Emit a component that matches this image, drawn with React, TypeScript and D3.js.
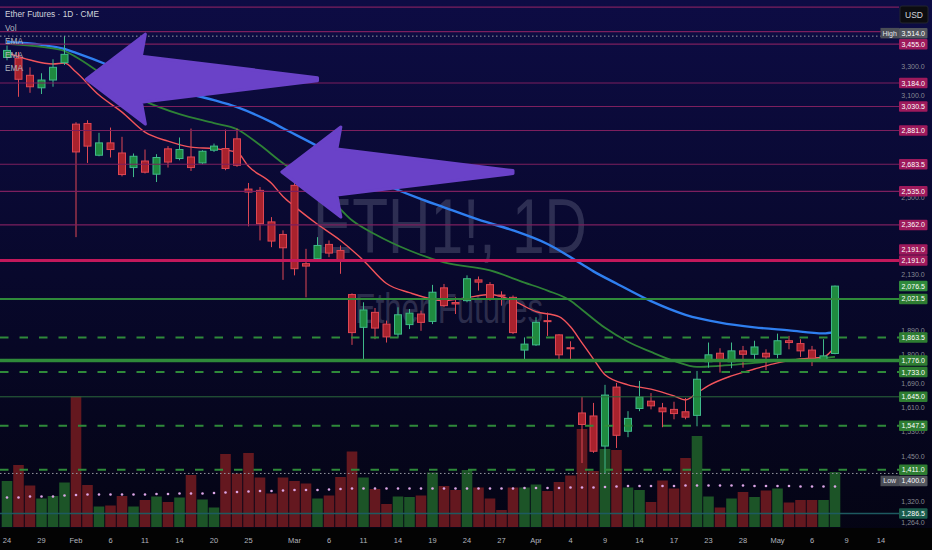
import { useEffect } from 'react';
import * as d3 from 'd3';

const W = 932;
const H = 550;
const PLOT_R = 899;
const PLOT_B = 528;

// Daily bars, CME trading days Jan 24 -> May 8 (index 0..72)
const opens = [
  3360, 3354, 3236, 3152, 3204, 3323, 2920, 2924, 2735, 2807,
  2748, 2665, 2702, 2628, 2772, 2716, 2725, 2691, 2764, 2774,
  2831, 2547, 2540, 2377, 2315, 2567, 2177, 2200, 2267, 2238,
  2040, 1904, 1965, 1917, 1877, 1915, 1958, 1928, 2069, 2006,
  2014, 2104, 2083, 2038, 2028, 1815, 1835, 1931, 1874, 1824,
  1590, 1580, 1483, 1679, 1530, 1605, 1630, 1607, 1602, 1594,
  1582, 1771, 1803, 1771, 1812, 1799, 1803, 1799, 1851, 1840,
  1815, 1774, 1802,
];
const highs = [
  3445, 3399, 3291, 3250, 3347, 3514, 2932, 2944, 2867, 2899,
  2843, 2745, 2768, 2741, 2788, 2839, 2893, 2764, 2803, 2887,
  2893, 2580, 2558, 2401, 2335, 2580, 2246, 2302, 2286, 2262,
  2045, 2007, 1983, 1931, 1986, 1979, 1972, 2082, 2086, 2028,
  2124, 2119, 2094, 2054, 2036, 1864, 1945, 1964, 1877, 1849,
  1644, 1624, 1687, 1694, 1596, 1701, 1658, 1624, 1628, 1641,
  1737, 1844, 1822, 1844, 1831, 1851, 1818, 1879, 1870, 1857,
  1831, 1857, 2079,
];
const lows = [
  3340, 3093, 3119, 3111, 3159, 3307, 2302, 2691, 2729, 2722,
  2616, 2612, 2632, 2585, 2665, 2706, 2646, 2684, 2754, 2650,
  2669, 2355, 2286, 2254, 2104, 2124, 2028, 2192, 2207, 2131,
  1835, 1774, 1857, 1844, 1864, 1897, 1890, 1917, 1986, 1958,
  2007, 2057, 2014, 1993, 1877, 1780, 1831, 1870, 1776, 1776,
  1431, 1462, 1400, 1477, 1511, 1596, 1602, 1543, 1569, 1569,
  1546, 1749, 1731, 1747, 1749, 1780, 1740, 1784, 1818, 1789,
  1755, 1771, 1799,
];
const closes = [
  3410, 3209, 3159, 3204, 3291, 3382, 2754, 2788, 2807, 2768,
  2626, 2729, 2639, 2722, 2696, 2768, 2665, 2758, 2788, 2660,
  2678, 2531, 2368, 2283, 2251, 2154, 2166, 2262, 2226, 2192,
  1883, 1975, 1901, 1866, 1955, 1962, 1924, 2050, 1993, 2000,
  2109, 2094, 2021, 2034, 1883, 1838, 1924, 1927, 1797, 1820,
  1552, 1467, 1651, 1517, 1572, 1644, 1614, 1594, 1588, 1576,
  1707, 1797, 1774, 1812, 1799, 1827, 1789, 1851, 1844, 1812,
  1784, 1793, 2076.5,
];
// volume, thousands of contracts
const volumes = [
  9.2, 12.4, 8.3, 5.7, 6.2, 8.9, 26.1, 8.4, 4.1, 4.3,
  6.2, 4.1, 5.4, 6.1, 5.0, 5.9, 10.4, 5.5, 3.9, 14.6,
  10.7, 14.8, 9.9, 6.7, 9.9, 9.2, 8.7, 5.7, 6.3, 10.0,
  15.1, 9.9, 7.6, 4.6, 6.1, 6.0, 6.3, 10.9, 8.2, 7.4,
  11.4, 7.9, 5.7, 3.4, 7.9, 7.9, 8.5, 7.2, 9.0, 10.3,
  19.6, 11.2, 15.6, 15.4, 7.9, 7.4, 5.0, 9.3, 7.7, 13.8,
  18.2, 6.1, 3.9, 5.7, 7.0, 6.0, 7.3, 7.7, 4.9, 5.4,
  5.4, 5.4, 11.0,
];
const volumeMA = [
  5.9, 5.9, 6.1, 6.1, 6.1, 6.3, 6.4, 6.5, 6.5, 6.5,
  6.5, 6.5, 6.5, 6.6, 6.6, 6.7, 6.7, 6.7, 6.8, 6.9,
  7.0, 7.1, 7.2, 7.2, 7.3, 7.4, 7.4, 7.4, 7.5, 7.6,
  7.7, 7.7, 7.7, 7.7, 7.7, 7.7, 7.7, 7.7, 7.7, 7.7,
  7.7, 7.7, 7.7, 7.7, 7.7, 7.8, 7.8, 7.8, 7.8, 7.9,
  7.9, 7.9, 8.0, 8.1, 8.2, 8.2, 8.2, 8.2, 8.2, 8.3,
  8.3, 8.3, 8.3, 8.3, 8.3, 8.2, 8.2, 8.2, 8.2, 8.1,
  8.1, 8.1, 8.1,
];

// EMA readings [bar index, price]
const emaFast: [number, number][] = [
  [0, 3392], [2, 3342], [4, 3314], [5, 3321], [6, 3258], [8, 3104], [10, 2995],
  [12, 2871], [14, 2817], [16, 2782], [18, 2773], [20, 2752], [21, 2672], [23, 2578],
  [24, 2508], [25, 2456], [27, 2365], [29, 2286], [31, 2192], [33, 2088], [35, 2048],
  [38, 2014], [40, 2027], [42, 2040], [44, 2014], [46, 1968], [48, 1947], [49, 1906],
  [50, 1843], [51, 1781], [52, 1723], [54, 1687], [56, 1672], [58, 1648], [59, 1634],
  [60, 1658], [61, 1684], [63, 1719], [65, 1744], [67, 1767], [69, 1781], [71, 1789],
  [72, 1828],
];
const emaMid: [number, number][] = [
  [0, 3457], [3, 3435], [5, 3406], [6, 3363], [8, 3258], [10, 3150], [12, 3065],
  [15, 2982], [18, 2926], [20, 2889], [22, 2794], [24, 2689], [26, 2605], [28, 2503],
  [30, 2385], [32, 2316], [35, 2238], [38, 2183], [42, 2146], [45, 2092], [47, 2057],
  [49, 2014], [50, 1976], [52, 1902], [54, 1847], [56, 1808], [58, 1774], [60, 1752],
  [62, 1756], [65, 1767], [68, 1778], [71, 1785], [72, 1789],
];
const emaSlow: [number, number][] = [
  [0, 3471], [3, 3450], [5, 3420], [6, 3392], [9, 3300], [12, 3197], [15, 3127],
  [18, 3071], [20, 3026], [23, 2932], [24, 2895], [27, 2788], [30, 2672], [33, 2569],
  [36, 2494], [38, 2451], [41, 2388], [44, 2335], [47, 2269], [50, 2174], [51, 2142],
  [53, 2088], [56, 2012], [59, 1955], [62, 1923], [65, 1904], [68, 1892], [71, 1880],
  [72, 1886],
];

const tickBars = [0, 3, 6, 9, 12, 15, 18, 21, 25, 28, 31, 34, 37, 40, 43, 46, 49, 52, 55, 58, 61, 64, 67, 70, 73, 76];
const tickLabels = ['24', '29', 'Feb', '6', '11', '14', '20', '25', 'Mar', '6', '11', '14', '19', '24', '27', 'Apr', '4', '9', '14', '17', '23', '28', 'May', '6', '9', '14'];

const priceTicks = [3300, 3100, 2500, 2130, 1890, 1800, 1690, 1610, 1530, 1450, 1320, 1264];

// drawn horizontal levels
const upperLevels = [3735, 3548];
const resistanceLevels = [3455, 3184, 3030.5, 2881, 2683.5, 2535, 2362, 2191];
const keyResistance = [2191];
const supportSolid = [2021.5];
const keySupport = [1776];
const supportDashed = [1863.5, 1733, 1547.5, 1411];
const supportThin = [1645];
const baseLevels = [1286.5];
const highPrice = 3514;
const lowPrice = 1400;

// arrow drawings: [from bar, to bar, price]
const arrows: [number, number, number][] = [
  [27.0, 6.9, 3210],
  [44.0, 23.9, 2640],
];

const BG_TOP = '#0d0c44';
const UP = { body: '#1f8a3f', edge: '#3fb98a', vol: '#1c5427' };
const DOWN = { body: '#a8222d', edge: '#de4754', vol: '#64181f' };
const MAGENTA = '#7d1f5e';
const MAGENTA_KEY = '#c2185b';
const MAGENTA_TAG = '#9e1a5c';
const GREEN_LINE = '#2f8a3a';
const GREEN_TAG = '#2e7d32';
const TEAL = '#1d5a60';
const FONT = '"Liberation Sans", Arial, sans-serif';

type Tag = { price: number; text: string; fill: string; tag?: string };

function layoutTags(ys: number[], gap: number) {
  const placed: number[] = [];
  return ys.map(y0 => {
    const free = (p: number) => placed.every(q => Math.abs(p - q) >= gap - 0.01);
    let pos = y0;
    if (!free(pos)) {
      for (let d = 0.5; d < 80; d += 0.5) {
        if (free(y0 - d)) { pos = y0 - d; break; }
        if (free(y0 + d)) { pos = y0 + d; break; }
      }
    }
    placed.push(pos);
    return pos;
  });
}

export default function App() {
  useEffect(() => {
    document.body.style.margin = '0';
  }, []);

  const x = d3.scaleLinear().domain([0, 76]).range([7, 881]);
  const y = d3.scaleLog().domain([3300, 1264]).range([66, 522]);
  const v = d3.scaleLinear().domain([0, 26]).range([527, 397]);
  const fmt = d3.format(',.1f');

  const line = d3
    .line<[number, number]>()
    .x(d => x(d[0]))
    .y(d => y(d[1]))
    .curve(d3.curveMonotoneX);

  const bars = opens.map((o, i) => ({ i, o, h: highs[i], l: lows[i], c: closes[i], vol: volumes[i] }));
  const last = closes[closes.length - 1];

  // price tags on the right scale, placed in priority order
  const tags: Tag[] = [
    ...keyResistance.map(p => ({ price: p, text: fmt(p), fill: MAGENTA_TAG })),
    ...keySupport.map(p => ({ price: p, text: fmt(p), fill: GREEN_TAG })),
    ...resistanceLevels.map(p => ({ price: p, text: fmt(p), fill: MAGENTA_TAG })),
    ...supportSolid.map(p => ({ price: p, text: fmt(p), fill: GREEN_TAG })),
    ...supportDashed.map(p => ({ price: p, text: fmt(p), fill: GREEN_TAG })),
    ...supportThin.map(p => ({ price: p, text: fmt(p), fill: GREEN_TAG })),
    ...baseLevels.map(p => ({ price: p, text: fmt(p), fill: '#1a5c4c' })),
    { price: last, text: fmt(last), fill: '#2f8a3c' },
    { price: highPrice, text: fmt(highPrice), fill: '#54575f', tag: 'High' },
    { price: lowPrice, text: fmt(lowPrice), fill: '#54575f', tag: 'Low' },
  ];
  const tagY = layoutTags(tags.map(t => y(t.price)), 11);

  const hline = (p: number, stroke: string, width: number, dash?: string, key?: string) => (
    <line
      key={key ?? `${p}-${stroke}-${width}`}
      x1={0}
      x2={PLOT_R}
      y1={y(p)}
      y2={y(p)}
      stroke={stroke}
      strokeWidth={width}
      strokeDasharray={dash}
    />
  );

  const arrowPath = (from: number, to: number, price: number) => {
    const tipX = x(to);
    const tailX = x(from);
    const cy = y(price);
    const len = tailX - tipX;
    const headLen = 59;
    const headHalf = 45;
    const shaftHalf = 23;
    const pts: [number, number][] = [
      [0, 0],
      [headLen, -headHalf],
      [headLen - 4, -shaftHalf],
      [len, -1.5],
      [len, 1.5],
      [headLen - 4, shaftHalf],
      [headLen, headHalf],
    ];
    return 'M' + pts.map(p => `${tipX + p[0]},${cy + p[1]}`).join('L') + 'Z';
  };

  return (
    <svg
      width={W}
      height={H}
      style={{ position: 'fixed', left: 0, top: 0, display: 'block' }}
      fontFamily={FONT}
    >
      <defs>
        <linearGradient id="bg" x1="0" y1="0" x2="0" y2="1">
          <stop offset="0%" stopColor={BG_TOP} />
          <stop offset="50%" stopColor="#08082c" />
          <stop offset="100%" stopColor="#040412" />
        </linearGradient>
        <clipPath id="plot">
          <rect x={0} y={0} width={PLOT_R} height={PLOT_B} />
        </clipPath>
      </defs>

      <rect x={0} y={0} width={W} height={H} fill="url(#bg)" />
      <rect x={0} y={PLOT_B} width={W} height={H - PLOT_B} fill="#030303" />

      {/* watermark */}
      <g fill="#8a8ea8" opacity={0.28} textAnchor="middle">
        <text x={450} y={253} fontSize={77} textLength={274} lengthAdjust="spacingAndGlyphs">
          ETH1!, 1D
        </text>
        <text x={449} y={323} fontSize={42} textLength={188} lengthAdjust="spacingAndGlyphs">
          Ether Futures
        </text>
      </g>

      <g clipPath="url(#plot)">
        {/* volume */}
        {bars.map(b => (
          <rect
            key={`v${b.i}`}
            x={x(b.i) - 5.3}
            width={10.6}
            y={v(b.vol)}
            height={v(0) - v(b.vol)}
            fill={b.c >= b.o ? UP.vol : DOWN.vol}
          />
        ))}
        {volumeMA.map((m, i) => (
          <circle key={`m${i}`} cx={x(i)} cy={v(m)} r={1.3} fill="#dca6e6" />
        ))}

        {/* EMAs */}
        <path d={line(emaSlow) ?? ''} fill="none" stroke="#2f7ff0" strokeWidth={2.4} />
        <path d={line(emaMid) ?? ''} fill="none" stroke="#2e8236" strokeWidth={1.8} />
        <path d={line(emaFast) ?? ''} fill="none" stroke="#f2545b" strokeWidth={1.4} />

        {/* candles */}
        {bars.map(b => {
          const col = b.c >= b.o ? UP : DOWN;
          const top = y(Math.max(b.o, b.c));
          const bot = y(Math.min(b.o, b.c));
          return (
            <g key={`c${b.i}`}>
              <line x1={x(b.i)} x2={x(b.i)} y1={y(b.h)} y2={y(b.l)} stroke={col.edge} strokeWidth={1} />
              <rect
                x={x(b.i) - 3.5}
                width={7}
                y={top}
                height={Math.max(1, bot - top)}
                fill={col.body}
                stroke={col.edge}
                strokeWidth={1}
              />
            </g>
          );
        })}

        {/* levels */}
        {upperLevels.map(p => hline(p, MAGENTA, 1.2))}
        {resistanceLevels.map(p => hline(p, MAGENTA, 1.2))}
        {keyResistance.map(p => hline(p, MAGENTA_KEY, 3, undefined, `k${p}`))}
        {supportSolid.map(p => hline(p, GREEN_LINE, 2))}
        {keySupport.map(p => hline(p, GREEN_LINE, 3.5))}
        {supportDashed.map(p => hline(p, GREEN_LINE, 2, '8.5 11'))}
        {supportThin.map(p => hline(p, '#2c6a3c', 1))}
        {baseLevels.map(p => hline(p, TEAL, 1.5))}
        {hline(highPrice, '#9598a1', 1, '1.5 2.5', 'high')}
        {hline(lowPrice, '#9598a1', 1, '1.5 2.5', 'low')}

        {/* arrow drawings */}
        {arrows.map((a, i) => (
          <path
            key={`a${i}`}
            d={arrowPath(a[0], a[1], a[2])}
            fill="#6a42c8"
            stroke="#6a42c8"
            strokeWidth={3}
            strokeLinejoin="round"
          />
        ))}
      </g>

      {/* legend */}
      <g fontSize={8.3}>
        <text x={5} y={17} fill="#d1d4dc">Ether Futures · 1D · CME</text>
        <text x={5} y={30.5} fill="#b2b5be">Vol</text>
        <text x={5} y={44} fill="#b2b5be">EMA</text>
        <text x={5} y={57.5} fill="#b2b5be">EMA</text>
        <text x={5} y={71} fill="#b2b5be">EMA</text>
      </g>

      {/* right price scale */}
      <g fontSize={7} textAnchor="middle">
        {priceTicks.map(p => (
          <text key={`t${p}`} x={913} y={y(p) + 2.5} fill="#868993">{fmt(p)}</text>
        ))}
        {tags.map((t, i) => (
          <g key={`tag${i}`}>
            {t.tag && (
              <>
                <rect x={880.5} y={tagY[i] - 5.25} width={18.5} height={10.5} fill="#4a4d56" />
                <text x={889.7} y={tagY[i] + 2.5} fill="#e0e3eb">{t.tag}</text>
              </>
            )}
            <rect x={899} y={tagY[i] - 5.25} width={28.5} height={10.5} fill={t.fill} rx={1} />
            <text x={913.2} y={tagY[i] + 2.5} fill="#ffffff">{t.text}</text>
          </g>
        ))}
        <rect x={900} y={6} width={28} height={17} rx={2} fill="#0c0c10" stroke="#22252e" />
        <text x={914} y={17.5} fontSize={8.5} fill="#d1d4dc">USD</text>
      </g>

      {/* time axis */}
      <g fontSize={7.5} textAnchor="middle" fill="#b2b5be">
        {tickBars.map((b, i) => (
          <text key={`x${i}`} x={x(b)} y={543}>{tickLabels[i]}</text>
        ))}
      </g>
    </svg>
  );
}
